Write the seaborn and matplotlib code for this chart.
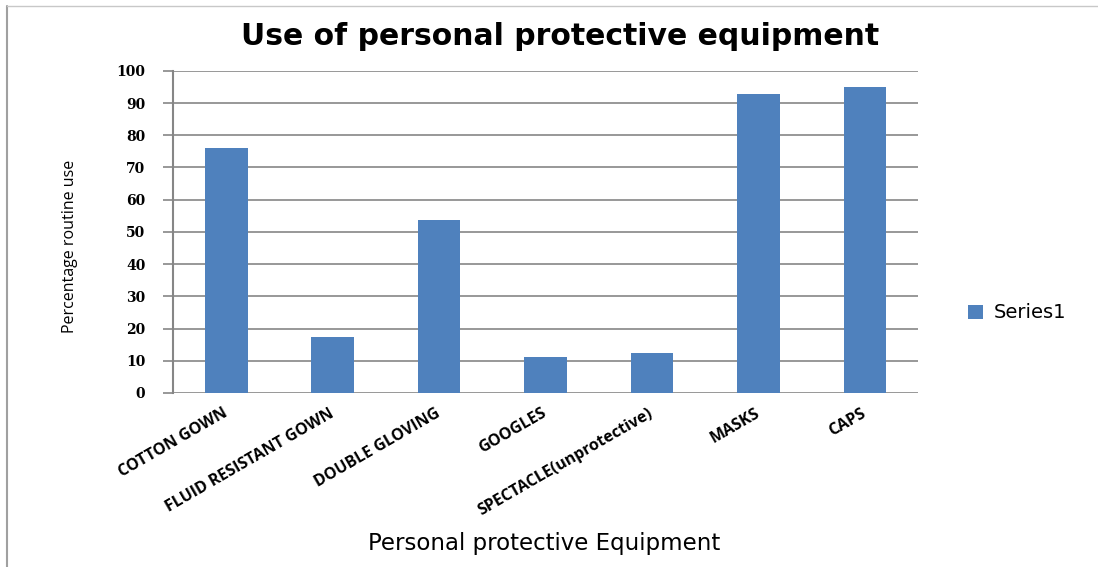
import matplotlib
matplotlib.use("Agg")
import matplotlib.pyplot as plt
import seaborn as sns
import pandas as pd
from matplotlib.patches import Patch

# Data
equipment = ['COTTON GOWN', 'FLUID RESISTANT GOWN', 'DOUBLE GLOVING', 'GOOGLES',
             'SPECTACLE(unprotective)', 'MASKS', 'CAPS']
routine_use = [76, 17.4, 53.7, 11.2, 12.4, 92.9, 95]
y_ticks = [0, 10, 20, 30, 40, 50, 60, 70, 80, 90, 100]

df = pd.DataFrame({'Equipment': equipment, 'Use': routine_use})

sns.set_style("white")
plt.rcParams['font.family'] = ['Open Sans', 'DejaVu Sans']
plt.rcParams['text.color'] = 'black'
plt.rcParams['xtick.color'] = 'black'
plt.rcParams['ytick.color'] = 'black'

fig = plt.figure(figsize=(10.98, 5.67), dpi=100)
ax = fig.add_axes([0.1576, 0.307, 0.6785, 0.568])

bar_color = '#4F81BD'
grid_color = '#868686'
sns.barplot(data=df, x='Equipment', y='Use', color=bar_color, width=0.4,
            saturation=1, linewidth=0, ax=ax, zorder=3)

ax.set_ylim(0, 100)
ax.set_xlim(-0.5, len(equipment) - 0.5)
ax.set_yticks(y_ticks)
ax.set_yticklabels([str(t) for t in y_ticks], fontsize=10, fontweight='bold',
                   family=['DejaVu Serif'])
ax.yaxis.grid(True, color=grid_color, linewidth=1.2, zorder=0)
ax.tick_params(axis='y', length=7, width=1.2, color=grid_color, pad=13,
               direction='out', left=True, labelcolor='black')
ax.tick_params(axis='x', length=0, pad=14, labelcolor='black')

for s in ['top', 'right', 'bottom']:
    ax.spines[s].set_visible(False)
ax.spines['left'].set_color(grid_color)
ax.spines['left'].set_linewidth(1.5)

ax.set_xticks(range(len(equipment)))
ax.set_xticklabels(equipment, rotation=30, ha='right', va='center',
                   rotation_mode='anchor', fontsize=11.5, fontweight='bold')
ax.set_xlabel('')
ax.set_ylabel('')

fig.text(0.496, 0.042, 'Personal protective Equipment', ha='center',
         va='center', fontsize=16.5, family=['DejaVu Sans'])
fig.text(0.064, 0.565, 'Percentage routine use', ha='center', va='center',
         rotation=90, fontsize=11.5)

fig.text(0.51, 0.935, 'Use of personal protective equipment', ha='center',
         va='center', fontsize=21.5, fontweight='bold', family=['DejaVu Sans'])

handles = [Patch(facecolor=bar_color, edgecolor='none', label='Series1')]
fig.legend(handles=handles, loc='center left', bbox_to_anchor=(0.866, 0.448),
           frameon=False, prop={'family': 'DejaVu Sans', 'size': 14},
           handlelength=0.75, handleheight=0.75, handletextpad=0.55)

# outer chart frame
fig.add_artist(plt.Line2D([0.0065, 0.0065], [0.0, 0.99], color='#a0a0a0',
                          linewidth=1.5, transform=fig.transFigure))
fig.add_artist(plt.Line2D([0.0065, 1.0], [0.99, 0.99], color='#c8c8c8',
                          linewidth=1.0, transform=fig.transFigure))

fig.savefig('out.png', dpi=100)
